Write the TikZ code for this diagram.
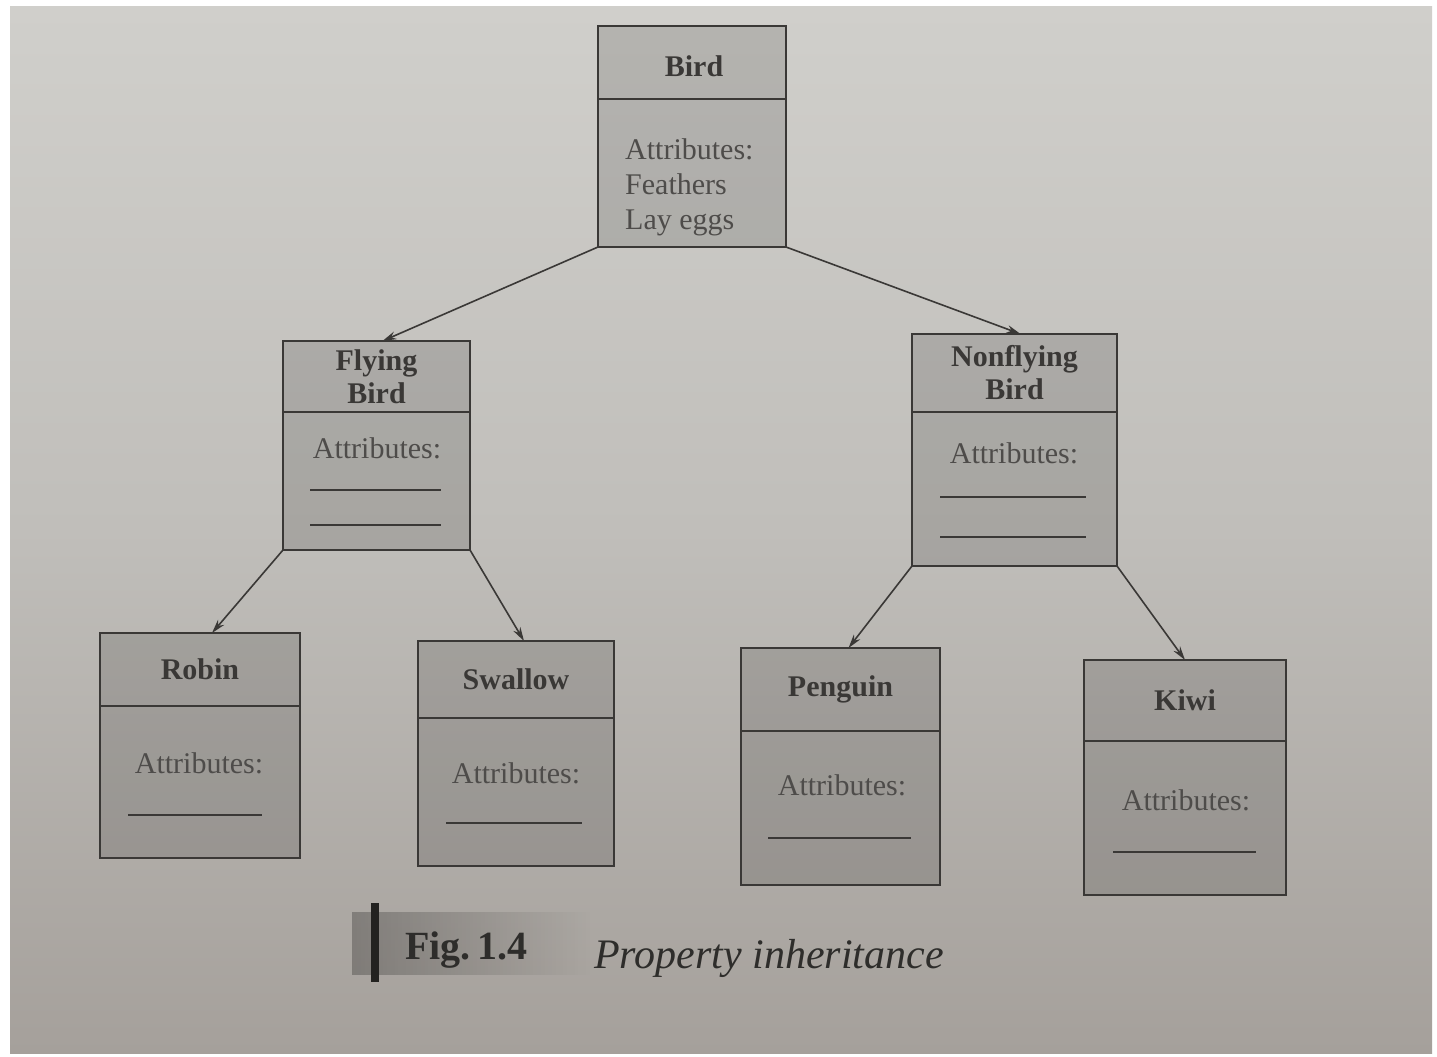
\documentclass[tikz,border=0pt]{standalone}
\usepackage{fontspec}
\setmainfont{Liberation Serif}
\usetikzlibrary{arrows.meta,calc,fadings}

\definecolor{ink}{RGB}{58,56,54}
\definecolor{pagetop}{RGB}{208,207,203}
\definecolor{pagemid}{RGB}{192,190,186}
\definecolor{pagebot}{RGB}{165,160,155}

\tikzset{
  classbox/.style={draw=ink, line width=1.8pt, fill=black, fill opacity=0.13,
    text opacity=1, text=ink, inner sep=0pt, outer sep=0pt, anchor=north, align=center},
  classhead/.style={classbox, font=\fontsize{30}{32}\selectfont\bfseries},
  attr/.style={text=ink!90!white, font=\fontsize{30}{35}\selectfont, inner sep=0pt, anchor=base},
  blank/.style={draw=ink, line width=1.6pt},
  inherit/.style={draw=ink, line width=1.6pt, -{Stealth[length=14pt,width=8pt]}},
  caption/.style={text=ink!80!black, inner sep=0pt, anchor=base west},
}

\begin{document}
\begin{tikzpicture}[x=1pt,y=-1pt]
  \useasboundingbox (0,0) rectangle (1437,1057);
  % page
  \fill[white] (0,0) rectangle (1437,1057);
  \shade[top color=pagetop, bottom color=pagebot, middle color=pagemid] (10,7) rectangle (1432,1053);

  % Bird
  \node[classhead, minimum width=188pt, minimum height=73pt] (bird-h) at (692,26) {};
  \node[classhead, anchor=base, draw=none, fill=none] (bird-t) at (694,77) {Bird};
  \node[classbox, minimum width=188pt, minimum height=148pt] (bird-b) at (bird-h.south) {};
  \node[attr, anchor=base west, align=left] (bird-a) at (625,229)
    {Attributes:\\Feathers\\Lay eggs};

  % Flying Bird
  \node[classhead, minimum width=187pt, minimum height=71pt] (fly-h) at (376.5,341) {Flying\\[1pt]Bird};
  \node[classbox, minimum width=187pt, minimum height=138pt] (fly-b) at (fly-h.south) {};
  \node[attr] (fly-a) at (377,458) {Attributes:};
  \draw[blank] (310,490) -- (441,490);
  \draw[blank] (310,525) -- (441,525);

  % Nonflying Bird
  \node[classhead, minimum width=205pt, minimum height=78pt] (non-h) at (1014.5,334) {Nonflying\\[1pt]Bird};
  \node[classbox, minimum width=205pt, minimum height=154pt] (non-b) at (non-h.south) {};
  \node[attr] (non-a) at (1014,463) {Attributes:};
  \draw[blank] (940,497) -- (1086,497);
  \draw[blank] (940,537) -- (1086,537);

  % Robin
  \node[classhead, minimum width=200pt, minimum height=73pt] (robin-h) at (200,633) {Robin};
  \node[classbox, minimum width=200pt, minimum height=152pt] (robin-b) at (robin-h.south) {};
  \node[attr] (robin-a) at (199,773) {Attributes:};
  \draw[blank] (128,815) -- (262,815);

  % Swallow
  \node[classhead, minimum width=196pt, minimum height=77pt] (swal-h) at (516,641) {Swallow};
  \node[classbox, minimum width=196pt, minimum height=148pt] (swal-b) at (swal-h.south) {};
  \node[attr] (swal-a) at (516,783) {Attributes:};
  \draw[blank] (446,823) -- (582,823);

  % Penguin
  \node[classhead, minimum width=199pt, minimum height=83pt] (peng-h) at (840.5,648) {Penguin};
  \node[classbox, minimum width=199pt, minimum height=154pt] (peng-b) at (peng-h.south) {};
  \node[attr] (peng-a) at (842,795) {Attributes:};
  \draw[blank] (768,838) -- (911,838);

  % Kiwi
  \node[classhead, minimum width=202pt, minimum height=81pt] (kiwi-h) at (1185,660) {Kiwi};
  \node[classbox, minimum width=202pt, minimum height=154pt] (kiwi-b) at (kiwi-h.south) {};
  \node[attr] (kiwi-a) at (1186,810) {Attributes:};
  \draw[blank] (1113,852) -- (1256,852);

  % inheritance arrows
  \draw[inherit] (bird-b.south west) -- ($(fly-h.north)+(6,0)$);
  \draw[inherit] (bird-b.south east) -- ($(non-h.north)+(6,0)$);
  \draw[inherit] (fly-b.south west) -- ($(robin-h.north)+(12,0)$);
  \draw[inherit] (fly-b.south east) -- ($(swal-h.north)+(8,0)$);
  \draw[inherit] (non-b.south west) -- ($(peng-h.north)+(8,0)$);
  \draw[inherit] (non-b.south east) -- (kiwi-h.north);

  % caption
  \fill[black, fill opacity=0.25, path fading=east] (352,912) rectangle (590,975);
  \fill[ink!60!black] (371,903) rectangle (379,982);
  \node[caption, font=\fontsize{40}{44}\selectfont\bfseries] (fig-num) at (405,959) {Fig.\,1.4};
  \node[caption, font=\fontsize{42}{46}\selectfont\itshape] (fig-title) at (594,968) {Property inheritance};
\end{tikzpicture}
\end{document}
